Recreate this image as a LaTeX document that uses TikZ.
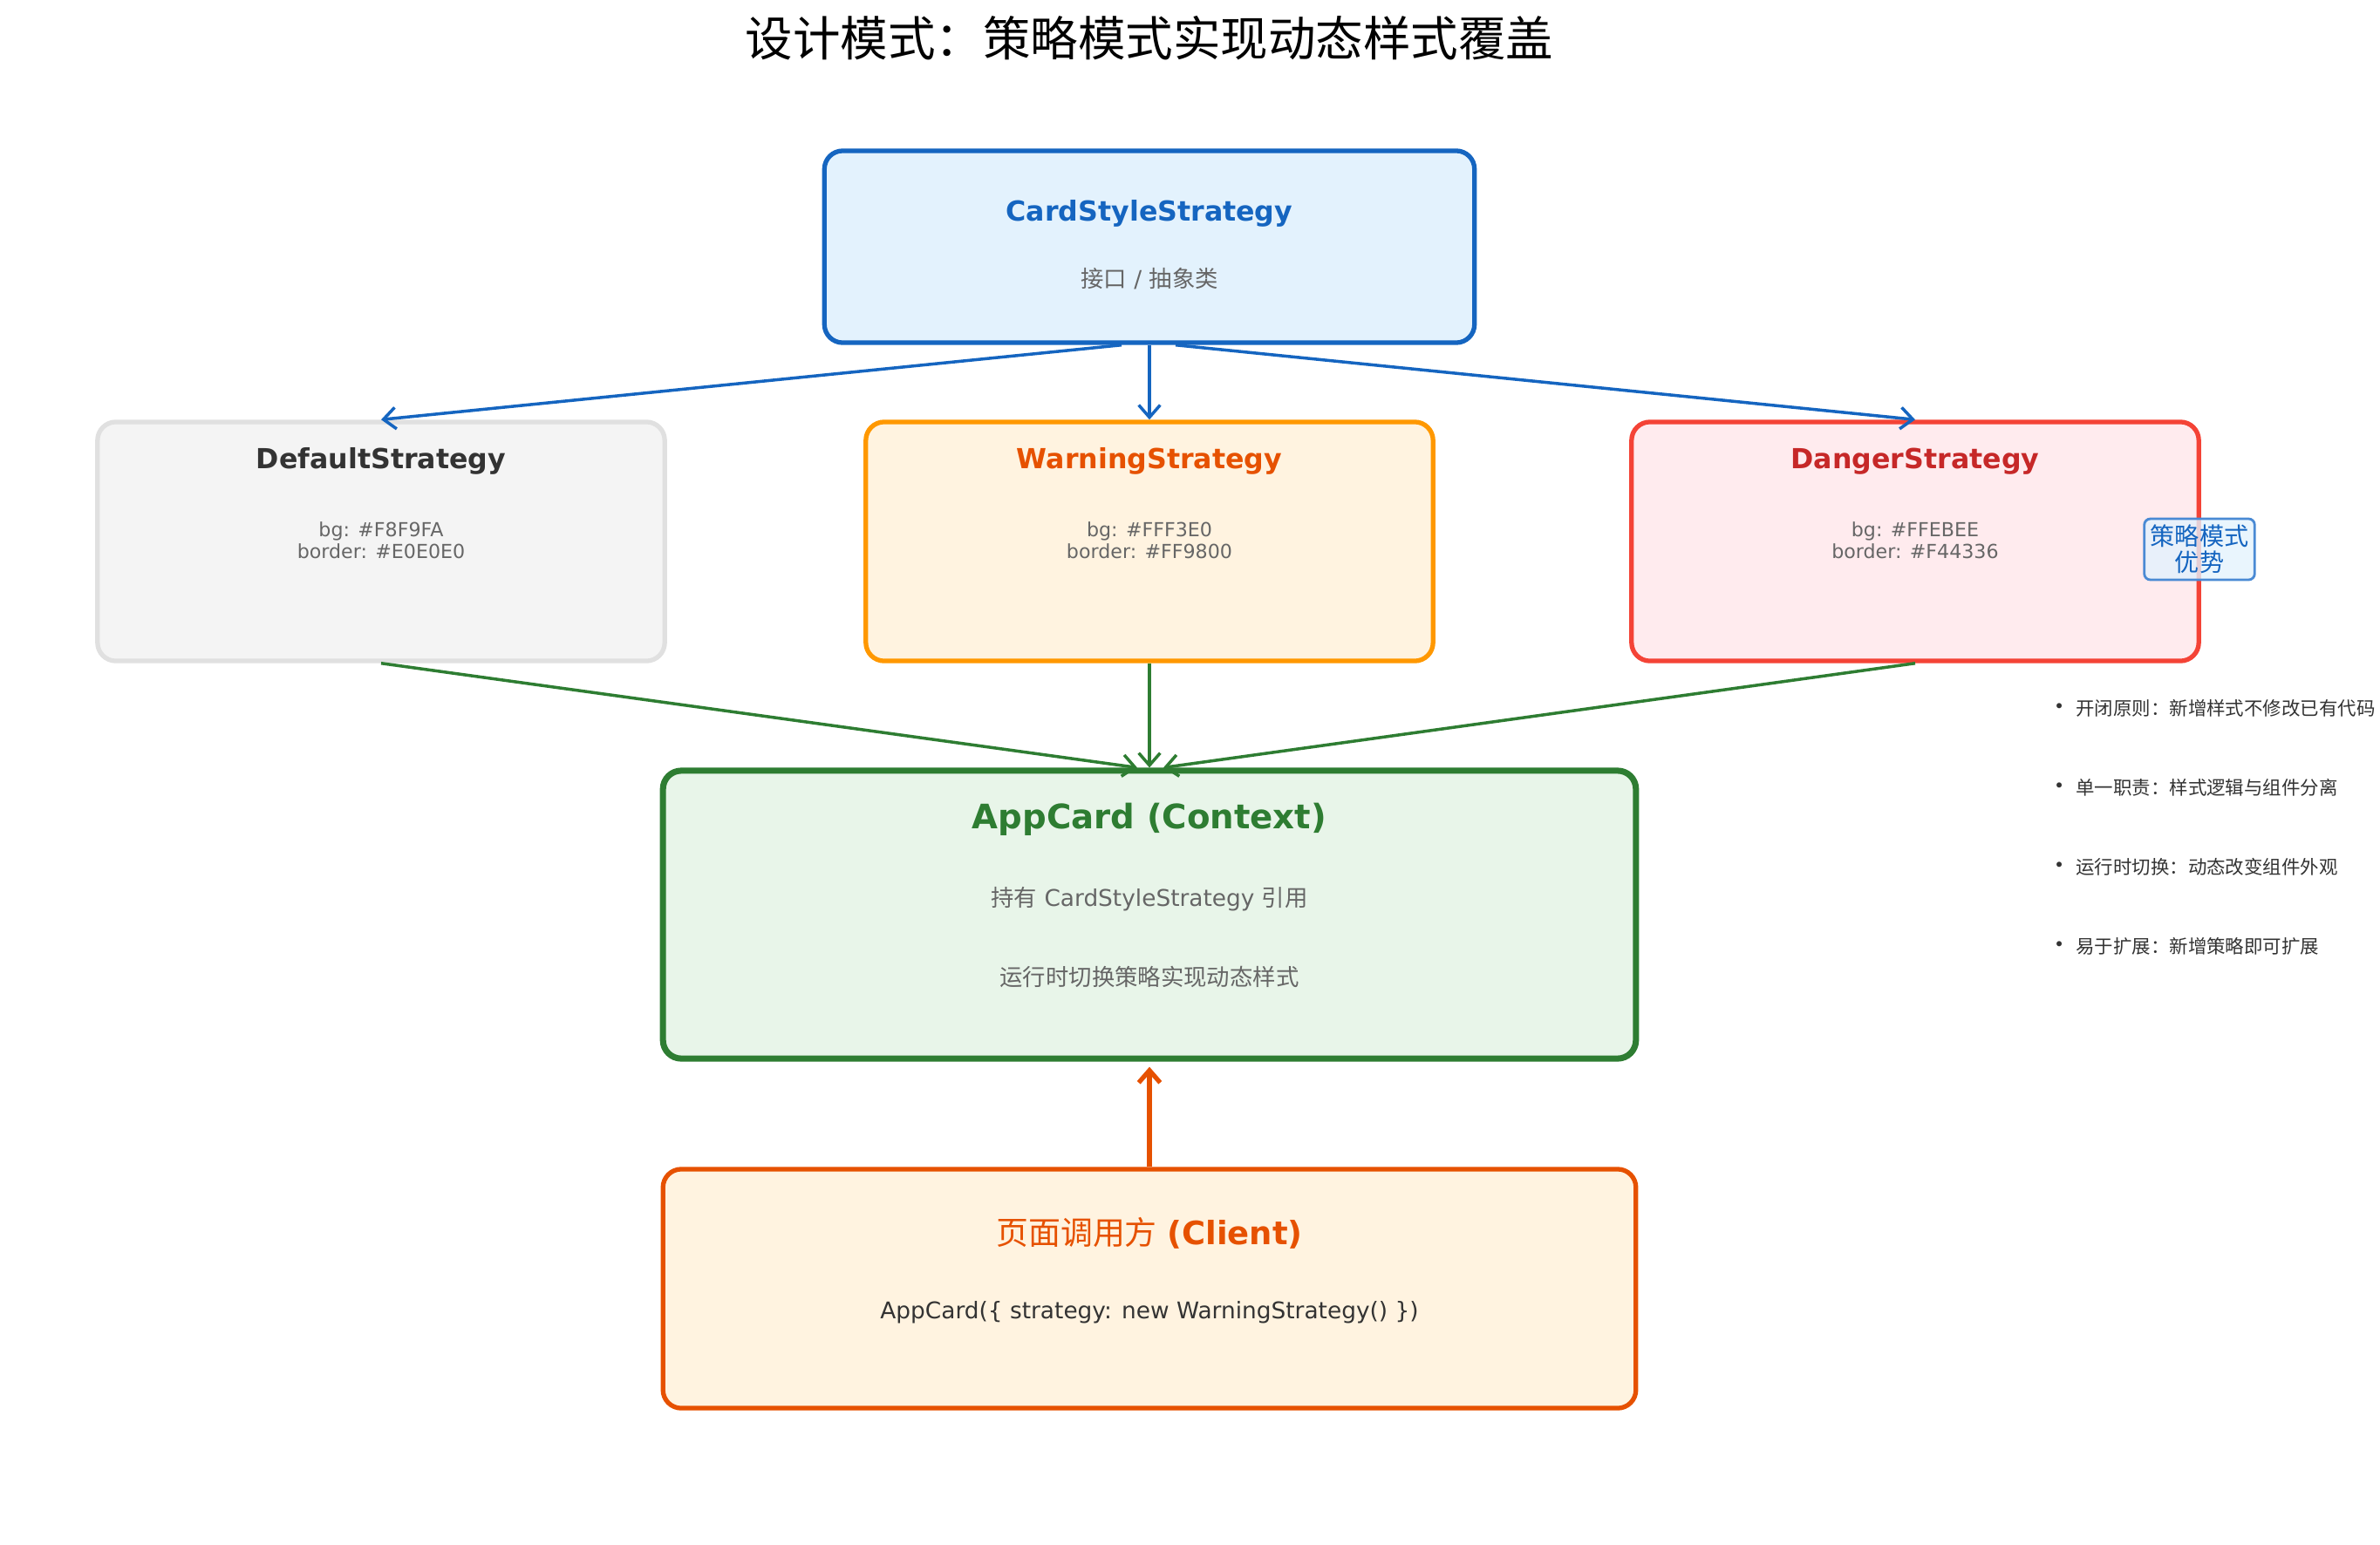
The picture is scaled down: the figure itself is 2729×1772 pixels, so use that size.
\documentclass[tikz,border=0pt]{standalone}
\usepackage{fontspec}
\setmainfont{DejaVu Sans}
\newfontfamily\cjk{Noto Sans CJK SC}
\usetikzlibrary{arrows.meta,positioning,calc,backgrounds}
\definecolor{csBlue}{HTML}{1565C0}
\definecolor{csBlueBg}{HTML}{E3F2FD}
\definecolor{dfBorder}{HTML}{E0E0E0}
\definecolor{dfBg}{HTML}{F4F4F4}
\definecolor{dfText}{HTML}{333333}
\definecolor{wnBorder}{HTML}{FF9800}
\definecolor{wnBg}{HTML}{FFF3E0}
\definecolor{wnText}{HTML}{E65100}
\definecolor{dgBorder}{HTML}{F44336}
\definecolor{dgBg}{HTML}{FFEBEE}
\definecolor{dgText}{HTML}{C62828}
\definecolor{ctxGreen}{HTML}{2E7D32}
\definecolor{ctxBg}{HTML}{E8F5E9}
\definecolor{subGray}{HTML}{666666}
\definecolor{noteBorder}{HTML}{4A8AD4}
\tikzset{
  card/.style={draw, rounded corners=0.21cm, line width=1.5pt},
  ttl/.style={font=\bfseries\fontsize{9}{11}\selectfont},
  sub/.style={font=\fontsize{7.5}{9}\selectfont, text=subGray},
  hex/.style={font=\fontsize{6.3}{7}\selectfont, text=subGray, align=center},
  bullet/.style={anchor=west, font=\cjk\fontsize{6.1}{8}\selectfont, text=dfText},
  link/.style={line width=1pt, -{Straight Barb[length=4pt,width=7pt]}}
}
\begin{document}
\begin{tikzpicture}[x=0.01cm,y=-0.01cm]
\useasboundingbox (0,0) rectangle (2729,1772);
% title
\node (title) at (1318,44) {\cjk\fontsize{15.5}{18}\selectfont 设计模式：策略模式实现动态样式覆盖};
% interface
\node[card, draw=csBlue, fill=csBlueBg, minimum width=7.45cm, minimum height=2.2cm] (css) at (1318,283) {};
\node[ttl, text=csBlue] (cssT) at (1318,245) {CardStyleStrategy};
\node[sub] (cssS) at (1318,320) {{\cjk 接口} / {\cjk 抽象类}};
% concrete strategies
\node[card, draw=dfBorder, fill=dfBg, minimum width=6.5cm, minimum height=2.74cm] (def) at (437,621) {};
\node[ttl, text=dfText] at (437,529) {DefaultStrategy};
\node[hex] at (437,620) {bg: \#F8F9FA\\border: \#E0E0E0};
\node[card, draw=wnBorder, fill=wnBg, minimum width=6.5cm, minimum height=2.74cm] (warn) at (1318,621) {};
\node[ttl, text=wnText] at (1318,529) {WarningStrategy};
\node[hex] at (1318,620) {bg: \#FFF3E0\\border: \#FF9800};
\node[card, draw=dgBorder, fill=dgBg, minimum width=6.5cm, minimum height=2.74cm] (dang) at (2196,621) {};
\node[ttl, text=dgText] at (2196,529) {DangerStrategy};
\node[hex] at (2196,620) {bg: \#FFEBEE\\border: \#F44336};
% context
\node[card, draw=ctxGreen, fill=ctxBg, line width=2pt, minimum width=11.15cm, minimum height=3.3cm] (ctx) at (1318,1049) {};
\node[ttl, text=ctxGreen, font=\bfseries\fontsize{11}{13}\selectfont] at (1318,940) {AppCard (Context)};
\node[sub] at (1318,1031) {{\cjk 持有} CardStyleStrategy {\cjk 引用}};
\node[sub] at (1318,1120) {\cjk 运行时切换策略实现动态样式};
% client
\node[card, draw=wnText, fill=wnBg, minimum width=11.15cm, minimum height=2.74cm] (cli) at (1318,1478) {};
\node[ttl, text=wnText, font=\fontsize{10.5}{13}\selectfont] at (1318,1414) {{\cjk 页面调用方} \textbf{(Client)}};
\node[font=\fontsize{7.5}{9}\selectfont, text=dfText] at (1318,1505) {AppCard(\{ strategy: new WarningStrategy() \})};
% arrows
\draw[link, csBlue] ($(css.south)+(-32,0)$) -- (def.north);
\draw[link, csBlue] (css.south) -- (warn.north);
\draw[link, csBlue] ($(css.south)+(30,0)$) -- (dang.north);
\draw[link, ctxGreen] (def.south) -- ($(ctx.north)+(-14,0)$);
\draw[link, ctxGreen] (warn.south) -- (ctx.north);
\draw[link, ctxGreen] (dang.south) -- ($(ctx.north)+(16,0)$);
\draw[link, wnText, line width=1.5pt] (cli.north) -- ($(ctx.south)+(0,6)$);
% advantages
\node[draw=noteBorder, fill=csBlueBg, fill opacity=0.8, text opacity=1, rounded corners=0.07cm, line width=0.8pt, align=center, inner sep=2pt, font=\cjk\fontsize{8}{8.5}\selectfont, text=csBlue] (adv) at (2522,630) {策略模式\\优势};
\node[bullet] (b1) at (2335,812) {{\fontsize{8}{8}\selectfont •} 开闭原则：新增样式不修改已有代码};
\node[bullet] (b2) at (2335,903) {{\fontsize{8}{8}\selectfont •} 单一职责：样式逻辑与组件分离};
\node[bullet] (b3) at (2335,994) {{\fontsize{8}{8}\selectfont •} 运行时切换：动态改变组件外观};
\node[bullet] (b4) at (2335,1085) {{\fontsize{8}{8}\selectfont •} 易于扩展：新增策略即可扩展};
\end{tikzpicture}
\end{document}
